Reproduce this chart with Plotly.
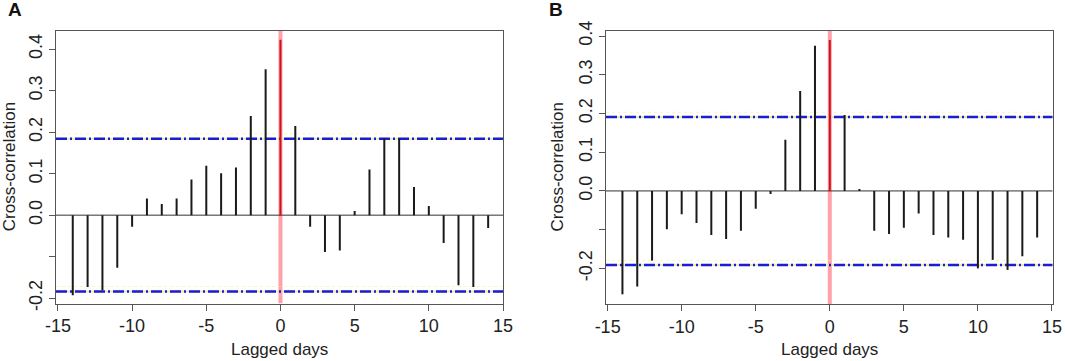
import plotly.graph_objects as go

lags = list(range(-14, 15))

ccf_a = [-0.193, -0.173, -0.181, -0.127, -0.028, 0.040, 0.027, 0.040, 0.086, 0.119,
         0.101, 0.115, 0.239, 0.352, 0.423, 0.215, -0.028, -0.089, -0.085, 0.010,
         0.110, 0.185, 0.185, 0.068, 0.022, -0.067, -0.169, -0.173, -0.031]
ccf_b = [-0.267, -0.247, -0.180, -0.099, -0.060, -0.083, -0.114, -0.124, -0.103, -0.046,
         -0.008, 0.132, 0.258, 0.375, 0.390, 0.196, 0.005, -0.103, -0.111, -0.095,
         -0.058, -0.114, -0.120, -0.126, -0.200, -0.178, -0.204, -0.169, -0.120]
ci_a = 0.184
ci_b = 0.191

x_ticks = [-15, -10, -5, 0, 5, 10, 15]
x_ticktext = ["-15", "-10", "-5", "0", "5", "10", "15"]
y_ticks = [-0.2, -0.1, 0.0, 0.1, 0.2, 0.3, 0.4]
y_ticktext = ["-0.2", "", "0.0", "0.1", "0.2", "0.3", "0.4"]

panels = [
    dict(vals=ccf_a, ci=ci_a, xr=[-15.13, 15.0], yr=[-0.213, 0.444],
         dom=[56 / 1065, 503 / 1065], ydom=[1 - 303.5 / 361, 1 - 31 / 361], label="A",
         label_x=15, ytitle_x=9),
    dict(vals=ccf_b, ci=ci_b, xr=[-15.11, 15.05], yr=[-0.292, 0.413],
         dom=[606 / 1065, 1052.7 / 1065], ydom=[1 - 304 / 361, 1 - 31 / 361], label="B",
         label_x=556, ytitle_x=557),
]

FONT = "Liberation Sans, Arial, sans-serif"
TXT = "#222222"
fig = go.Figure()
layout = dict(
    width=1065, height=361, margin=dict(l=0, r=0, t=0, b=0, autoexpand=False),
    paper_bgcolor="white", plot_bgcolor="white", showlegend=False,
    font=dict(family=FONT, size=17, color=TXT),
    annotations=[],
)

for i, p in enumerate(panels):
    xa = "x" if i == 0 else "x2"
    ya = "y" if i == 0 else "y2"
    xr, yr = p["xr"], p["yr"]
    # pink vertical reference line at lag 0
    fig.add_trace(go.Scatter(x=[0, 0], y=yr, mode="lines", xaxis=xa, yaxis=ya,
                             line=dict(color="rgba(255,130,140,0.75)", width=4), hoverinfo="skip"))
    # zero line
    fig.add_trace(go.Scatter(x=xr, y=[0, 0], mode="lines", xaxis=xa, yaxis=ya,
                             line=dict(color="#333333", width=1), hoverinfo="skip"))
    # confidence lines: faint yellow + blue dash-dot
    for s in (1, -1):
        fig.add_trace(go.Scatter(x=xr, y=[s * p["ci"] + 0.012, s * p["ci"] + 0.012], mode="lines",
                                 xaxis=xa, yaxis=ya,
                                 line=dict(color="rgba(240,240,130,0.55)", width=1, dash="dot"),
                                 hoverinfo="skip"))
        fig.add_trace(go.Scatter(x=xr, y=[s * p["ci"], s * p["ci"]], mode="lines",
                                 xaxis=xa, yaxis=ya,
                                 line=dict(color="rgba(225,225,140,0.7)", width=2),
                                 hoverinfo="skip"))
        fig.add_trace(go.Scatter(x=xr, y=[s * p["ci"], s * p["ci"]], mode="lines",
                                 xaxis=xa, yaxis=ya,
                                 line=dict(color="#1c1cd0", width=2.5, dash="11px,3px,2px,3px"),
                                 hoverinfo="skip"))
    # black bars (except lag 0)
    bx, by = [], []
    for lag, v in zip(lags, p["vals"]):
        if lag == 0:
            continue
        bx += [lag, lag, None]
        by += [0, v, None]
    fig.add_trace(go.Scatter(x=bx, y=by, mode="lines", xaxis=xa, yaxis=ya,
                             line=dict(color="#1a1a1a", width=2), hoverinfo="skip"))
    # red bar at lag 0
    v0 = p["vals"][lags.index(0)]
    fig.add_trace(go.Scatter(x=[0, 0], y=[0, v0], mode="lines", xaxis=xa, yaxis=ya,
                             line=dict(color="#d0101e", width=2), hoverinfo="skip"))

    axis_common = dict(showline=True, mirror=True, linecolor="#555555", linewidth=1,
                       ticks="outside", ticklen=6, tickcolor="#555555", showgrid=False,
                       zeroline=False, automargin=False,
                       tickfont=dict(family=FONT, size=18, color=TXT))
    xkey = "xaxis" if i == 0 else "xaxis2"
    ykey = "yaxis" if i == 0 else "yaxis2"
    layout[xkey] = dict(axis_common, domain=p["dom"], range=xr, tickvals=x_ticks,
                        ticktext=x_ticktext, anchor=ya)
    layout[ykey] = dict(axis_common, domain=p["ydom"], range=yr, tickvals=y_ticks,
                        ticktext=y_ticktext, tickangle=-90, anchor=xa)
    xmid = (p["dom"][0] + p["dom"][1]) / 2
    layout["annotations"] += [
        dict(text="Lagged days", xref="paper", yref="paper", x=xmid, y=1 - 349 / 361,
             xanchor="center", yanchor="middle", showarrow=False,
             font=dict(family=FONT, size=17, color=TXT)),
        dict(text="Cross-correlation", xref="paper", yref="paper", x=p["ytitle_x"] / 1065,
             y=(p["ydom"][0] + p["ydom"][1]) / 2, xanchor="center", yanchor="middle",
             textangle=-90, showarrow=False, font=dict(family=FONT, size=17, color=TXT)),
        dict(text="<b>" + p["label"] + "</b>", xref="paper", yref="paper",
             x=p["label_x"] / 1065, y=1 - 10 / 361, xanchor="center", yanchor="middle",
             showarrow=False, font=dict(family=FONT, size=19, color="#111111")),
    ]

fig.update_layout(**layout)
fig.write_html("out.html", config={"displayModeBar": False},
               post_script="document.body.style.margin='0';document.body.style.overflow='hidden';")
